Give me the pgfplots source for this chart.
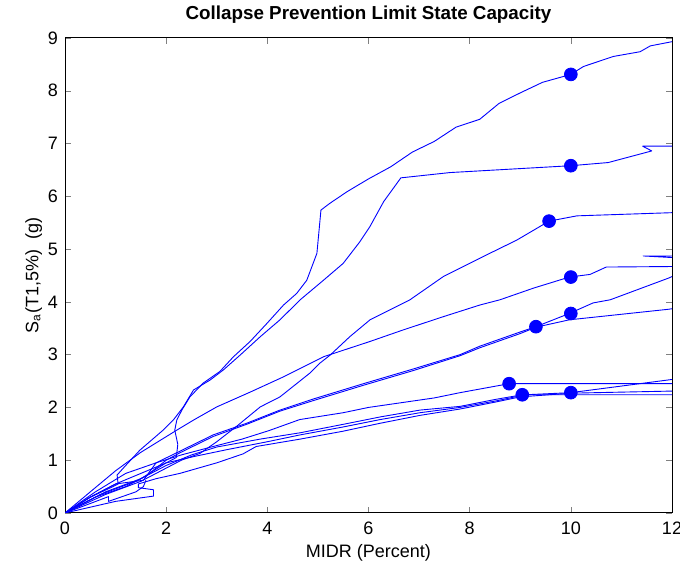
\documentclass[border=0pt]{standalone}
\usepackage{pgfplots}
\pgfplotsset{compat=1.18}
\usepackage{fontspec}
\setmainfont{Liberation Sans}
\pgfplotsset{ida/.style={blue, solid, mark=none, line width=0.45pt, line join=round}}
\begin{document}
\begin{tikzpicture}
\begin{axis}[
  scale only axis, width=303.5pt, height=237.5pt,
  xmin=0, xmax=12, ymin=0, ymax=9,
  xtick={0,2,...,12}, ytick={0,1,...,9},
  tick align=inside, major tick length=3pt,
  xtick pos=both, ytick pos=both,
  /pgf/number format/assume math mode=true,
  ticklabel style={font=\fontsize{9}{10}\selectfont},
  xticklabel style={yshift=-1pt},
  label style={font=\fontsize{9}{10}\selectfont},
  title style={font=\fontsize{9.4}{10}\selectfont\bfseries, yshift=-2pt},
  title={Collapse Prevention Limit State Capacity},
  xlabel={MIDR (Percent)},
  ylabel={S\textsubscript{a}(T1,5\%)\ \ (g)},
  xlabel style={yshift=2pt},
  ylabel style={yshift=-4pt},
  axis line style={black, line width=0.5pt},
  clip=true,
]
% Curve A (jump near 5 percent, top curve)
\addplot[ida] coordinates {(0,0)(0.5,0.3)(1.0,0.55)(1.5,0.75)(2.0,0.95)(2.2,1.05)(2.23,1.3)(2.17,1.57)(2.21,1.76)(2.31,1.95)(2.47,2.2)(2.73,2.46)(3.06,2.68)(3.33,2.96)(3.66,3.25)(3.99,3.59)(4.32,3.94)(4.58,4.16)(4.78,4.41)(4.98,4.92)(5.06,5.74)(5.24,5.87)(5.58,6.09)(6.0,6.33)(6.44,6.56)(6.87,6.84)(7.3,7.04)(7.73,7.31)(8.2,7.46)(8.58,7.76)(9.0,7.96)(9.44,8.16)(10,8.31)(10.25,8.46)(10.84,8.65)(11.37,8.74)(11.57,8.85)(12,8.93)};
% Curve B (jump to plateau near 6.4)
\addplot[ida] coordinates {(0,0)(0.5,0.3)(0.95,0.5)(1.05,0.55)(1.03,0.72)(1.2,0.9)(1.48,1.19)(1.94,1.57)(2.14,1.76)(2.34,2.01)(2.54,2.33)(2.87,2.52)(3.13,2.71)(3.46,2.99)(3.86,3.34)(4.25,3.66)(4.65,4.04)(5.11,4.41)(5.5,4.73)(5.83,5.14)(6.03,5.43)(6.3,5.9)(6.64,6.35)(7.61,6.45)(10,6.58)(10.74,6.64)(11.6,6.86)(11.42,6.95)(12,6.95)};
% Curve C
\addplot[ida] coordinates {(0,0)(0.8,0.35)(1.5,0.6)(2.0,0.85)(2.3,1.0)(2.67,1.13)(3.0,1.35)(3.39,1.64)(3.86,2.01)(4.25,2.2)(4.84,2.65)(5.04,2.84)(5.24,2.99)(5.63,3.34)(6.03,3.66)(6.82,4.04)(7.48,4.48)(8.27,4.86)(8.93,5.17)(9.57,5.53)(10.12,5.63)(12,5.69)};
% Curve D
\addplot[ida] coordinates {(0,0)(0.5,0.4)(1.0,0.8)(1.5,1.15)(2.21,1.57)(2.54,1.76)(3.0,2.01)(3.66,2.29)(4.32,2.58)(5.11,2.96)(6.03,3.25)(6.69,3.47)(7.48,3.72)(8.2,3.94)(8.6,4.04)(9.26,4.26)(9.97,4.47)(10.38,4.52)(10.7,4.66)(12,4.67)};
% short segment
\addplot[ida] coordinates {(12,4.87)(11.43,4.87)(12,4.84)};
% Curve F
\addplot[ida] coordinates {(0,0)(0.5,0.3)(1.0,0.55)(1.55,0.62)(1.8,0.95)(2.27,1.17)(2.93,1.48)(3.59,1.7)(4.25,1.95)(4.91,2.16)(5.9,2.45)(6.89,2.73)(7.81,3.0)(8.2,3.16)(9.0,3.43)(9.31,3.53)(9.97,3.78)(10.44,3.98)(10.78,4.04)(11.93,4.45)(12,4.48)};
% Curve G
\addplot[ida] coordinates {(0,0)(0.6,0.3)(1.2,0.5)(1.6,0.7)(2.0,1.0)(2.27,1.14)(2.93,1.45)(3.59,1.68)(4.25,1.93)(4.91,2.13)(5.9,2.42)(6.89,2.7)(7.81,2.98)(8.2,3.13)(9.0,3.4)(9.31,3.52)(9.97,3.66)(11.93,3.86)(12,3.87)};
% Curve H
\addplot[ida] coordinates {(0,0)(0.6,0.4)(1.2,0.75)(1.8,0.95)(2.3,1.1)(2.93,1.26)(3.5,1.4)(4.03,1.56)(4.64,1.77)(5.5,1.9)(6.0,2.0)(7.3,2.18)(7.81,2.28)(8.78,2.45)(12,2.45)};
% Curve I
\addplot[ida] coordinates {(0,0)(0.7,0.35)(1.4,0.6)(2.0,0.9)(2.5,1.1)(3.0,1.25)(3.86,1.4)(4.65,1.52)(5.5,1.68)(6.23,1.82)(7.02,1.95)(7.81,2.02)(8.5,2.15)(9.04,2.24)(12,2.24)};
% Curve J
\addplot[ida] coordinates {(0,0)(0.8,0.4)(1.5,0.65)(2.0,0.95)(2.6,1.08)(3.2,1.2)(4.0,1.35)(4.65,1.48)(5.5,1.63)(6.23,1.77)(7.02,1.9)(7.81,2.0)(8.5,2.12)(9.1,2.24)(10,2.28)(12,2.53)};
% Curve K (lowest)
\addplot[ida] coordinates {(0,0)(1.0,0.22)(1.75,0.32)(1.75,0.44)(1.45,0.48)(1.45,0.55)(1.8,0.65)(2.27,0.75)(3.0,0.95)(3.52,1.12)(3.78,1.26)(4.65,1.4)(5.5,1.55)(6.23,1.7)(7.02,1.85)(7.81,1.97)(8.5,2.1)(9.0,2.2)(10,2.27)(12,2.31)};
% small loop curve
\addplot[ida] coordinates {(0,0)(0.86,0.31)(0.86,0.22)(1.4,0.4)(1.55,0.5)(1.6,0.62)};
% capacity points
\addplot[only marks, mark=*, mark size=3.2pt, blue, mark options={fill=blue, draw=blue}] coordinates {(10,8.31)(10,6.58)(9.57,5.53)(10,4.47)(10,3.78)(9.31,3.53)(8.78,2.45)(9.04,2.24)(10,2.28)};
\end{axis}
\pgfresetboundingbox
\path (current axis.south west) ++(-32.5pt,-25.5pt) coordinate (bl);
\path (current axis.north east) ++(4pt,19pt) coordinate (tr);
\useasboundingbox (bl) rectangle (tr);
\end{tikzpicture}
\end{document}
